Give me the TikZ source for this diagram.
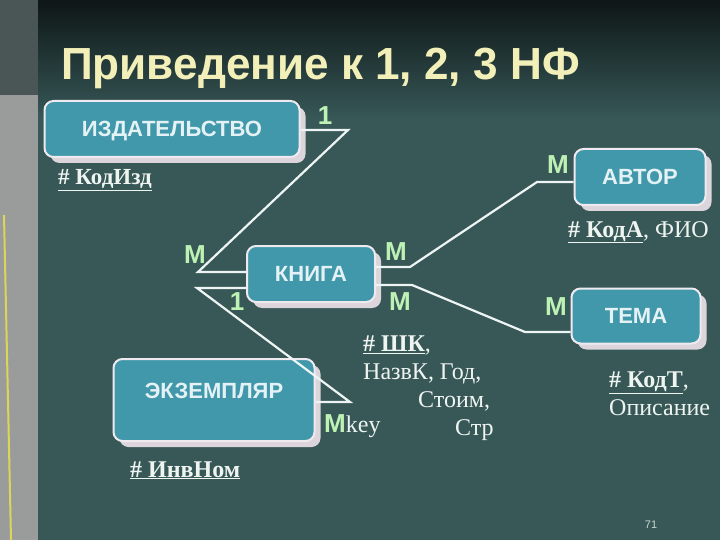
\documentclass[tikz,border=0pt]{standalone}
\usepackage{fontspec}
\setmainfont{Liberation Serif}
\setsansfont{Liberation Sans}
\usetikzlibrary{shadows}
\definecolor{slidebg}{HTML}{385858}
\definecolor{slidetop}{HTML}{0E1616}
\definecolor{stripgray}{HTML}{9A9C9C}
\definecolor{stripdark}{HTML}{4A5656}
\definecolor{boxteal}{HTML}{4098AA}
\definecolor{boxrim}{HTML}{EEEAF0}
\definecolor{boxshade}{HTML}{DCD6DC}
\definecolor{boxtext}{HTML}{E4F2F6}
\definecolor{linkcol}{HTML}{EEF4F4}
\definecolor{cardcol}{HTML}{BEF2B4}
\definecolor{attrcol}{HTML}{EEF4F0}
\definecolor{titlecol}{HTML}{F2F0B8}

\begin{document}
\begin{tikzpicture}[x=1pt,y=-1pt,
  entity/.style={rounded corners=9pt,fill=boxteal,draw=boxrim,line width=2pt,
    drop shadow={shadow xshift=6pt,shadow yshift=-6pt,fill=boxshade,opacity=1},
    text=boxtext,font=\sffamily\bfseries\fontsize{22}{22}\selectfont,inner sep=0pt},
  link/.style={draw=linkcol,line width=2.2pt},
  card/.style={text=cardcol,font=\sffamily\bfseries\fontsize{26}{26}\selectfont,inner sep=0pt},
  attr/.style={text=attrcol,font=\fontsize{24}{28}\selectfont,inner sep=0pt,align=left}]
\useasboundingbox (0,0) rectangle (720,540);
\fill[slidebg] (0,0) rectangle (720,540);
\shade[top color=slidetop,bottom color=slidebg] (0,0) rectangle (720,120);
\fill[stripdark] (0,0) rectangle (38,95);
\fill[stripgray] (0,95) rectangle (38,540);
\draw[yellow!60!stripgray,line width=2pt] (4,215) -- (11,540);

\node[anchor=base west,text=titlecol,font=\sffamily\bfseries\fontsize{45}{45}\selectfont,inner sep=0pt] (title) at (61,80) {\scalebox{0.98}[1]{Приведение к 1, 2, 3 НФ}};

\node[entity,minimum width=255pt,minimum height=56pt,text depth=-2pt] (izd) at (172,129) {ИЗДАТЕЛЬСТВО};
\node[entity,minimum width=131pt,minimum height=56pt,text depth=-2pt] (avtor) at (640,177) {АВТОР};
\node[entity,minimum width=128pt,minimum height=56pt,text depth=-2pt] (kniga) at (311,274) {КНИГА};
\node[entity,minimum width=129pt,minimum height=55pt,text depth=-2pt] (tema) at (636,316) {ТЕМА};
\node[entity,minimum width=201pt,minimum height=82pt,text depth=18pt] (ekz) at (214,400) {ЭКЗЕМПЛЯР};

\coordinate (izdbend) at (348,130);
\coordinate (knigabend) at (198,272);
\draw[link] (izd.east |- izdbend) -- (izdbend) -- (knigabend) -- (kniga.west |- knigabend);
\coordinate (avtorleft) at (410,267);
\coordinate (avtorright) at (537,182);
\draw[link] (kniga.east |- avtorleft) -- (avtorleft) -- (avtorright) -- (avtor.west |- avtorright);
\coordinate (temaleft) at (412,285);
\coordinate (temaright) at (525,332);
\draw[link] (kniga.east |- temaleft) -- (temaleft) -- (temaright) -- (tema.west |- temaright);
\coordinate (ekzleft) at (197,288);
\coordinate (ekzright) at (350,402);
\draw[link] (kniga.west |- ekzleft) -- (ekzleft) -- (ekzright) -- (ekz.east |- ekzright);

\node[card] (izdone) at (325,116) {1};
\node[card] (knigamany) at (195,255) {M};
\node[card] (knigaone) at (237,302) {1};
\node[card] (avtorfrom) at (396,252) {M};
\node[card] (temafrom) at (400,302) {M};
\node[card] (avtormany) at (558,165) {M};
\node[card] (temamany) at (556,307) {M};
\node[card,anchor=base west] (ekzmany) at (324,432) {M\textcolor{attrcol}{\rmfamily\mdseries\fontsize{24}{24}\selectfont key}};

\node[attr,anchor=base west,font=\fontsize{23}{28}\selectfont] (izdattr) at (58,185) {\underline{\textbf{\# КодИзд}}};
\node[attr,anchor=base west] (avtorattr) at (568,237) {\underline{\textbf{\# КодА}}, ФИО};
\node[attr,anchor=north west] (knigaattr) at (363,336) {\underline{\textbf{\# ШК}},\\НазвК, Год,\\\hspace*{55pt}Стоим,\\\hspace*{92pt}Стр};
\node[attr,anchor=north west] (temaattr) at (609,372) {\underline{\textbf{\# КодТ}},\\Описание};
\node[attr,anchor=base west] (ekzattr) at (130,477) {\underline{\textbf{\# ИнвНом}}};

\node[text=attrcol!80!slidebg,font=\sffamily\fontsize{11}{11}\selectfont] (pagenum) at (651,525) {71};
\end{tikzpicture}
\end{document}
